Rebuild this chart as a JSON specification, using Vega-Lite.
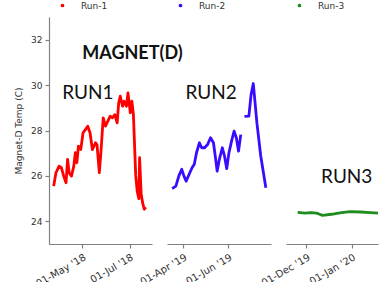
{
  "$schema": "https://vega.github.io/schema/vega-lite/v6.json",
  "padding": {"left": 14, "top": 1, "right": 5, "bottom": 5},
  "spacing": 15,
  "bounds": "flush",
  "config": {
    "view": {"stroke": null},
    "font": "DejaVu Sans",
    "axis": {"domainColor": "#808080", "tickColor": "#808080", "labelColor": "#333333", "labelFontSize": 9, "titleFontSize": 9, "titleFontWeight": "normal", "titleColor": "#333333", "grid": false, "domainWidth": 1.2, "tickWidth": 1.2, "tickSize": 4}
  },
  "resolve": {"scale": {"x": "independent", "y": "independent", "color": "independent"}, "legend": {"color": "independent"}},
  "datasets": {
    "frame": [{"edge": "top"}],
    "run1": [
      {"run": "Run-1", "date": "2018-03-25", "temp": 25.55},
      {"run": "Run-1", "date": "2018-03-28", "temp": 26.14},
      {"run": "Run-1", "date": "2018-04-01", "temp": 26.43},
      {"run": "Run-1", "date": "2018-04-04", "temp": 26.36},
      {"run": "Run-1", "date": "2018-04-07", "temp": 25.99},
      {"run": "Run-1", "date": "2018-04-10", "temp": 25.70},
      {"run": "Run-1", "date": "2018-04-12", "temp": 26.73},
      {"run": "Run-1", "date": "2018-04-14", "temp": 26.14},
      {"run": "Run-1", "date": "2018-04-17", "temp": 25.99},
      {"run": "Run-1", "date": "2018-04-20", "temp": 26.43},
      {"run": "Run-1", "date": "2018-04-22", "temp": 27.02},
      {"run": "Run-1", "date": "2018-04-24", "temp": 26.58},
      {"run": "Run-1", "date": "2018-04-26", "temp": 27.31},
      {"run": "Run-1", "date": "2018-04-29", "temp": 27.16},
      {"run": "Run-1", "date": "2018-05-02", "temp": 27.90},
      {"run": "Run-1", "date": "2018-05-05", "temp": 28.04},
      {"run": "Run-1", "date": "2018-05-08", "temp": 28.19},
      {"run": "Run-1", "date": "2018-05-11", "temp": 27.90},
      {"run": "Run-1", "date": "2018-05-14", "temp": 27.16},
      {"run": "Run-1", "date": "2018-05-18", "temp": 27.46},
      {"run": "Run-1", "date": "2018-05-20", "temp": 27.38},
      {"run": "Run-1", "date": "2018-05-23", "temp": 26.14},
      {"run": "Run-1", "date": "2018-05-25", "temp": 27.02},
      {"run": "Run-1", "date": "2018-05-28", "temp": 28.56},
      {"run": "Run-1", "date": "2018-05-31", "temp": 28.19},
      {"run": "Run-1", "date": "2018-06-03", "temp": 28.41},
      {"run": "Run-1", "date": "2018-06-06", "temp": 28.63},
      {"run": "Run-1", "date": "2018-06-09", "temp": 28.56},
      {"run": "Run-1", "date": "2018-06-12", "temp": 28.70},
      {"run": "Run-1", "date": "2018-06-15", "temp": 28.34},
      {"run": "Run-1", "date": "2018-06-17", "temp": 29.22},
      {"run": "Run-1", "date": "2018-06-19", "temp": 29.51},
      {"run": "Run-1", "date": "2018-06-22", "temp": 29.07},
      {"run": "Run-1", "date": "2018-06-24", "temp": 29.29},
      {"run": "Run-1", "date": "2018-06-27", "temp": 29.07},
      {"run": "Run-1", "date": "2018-06-29", "temp": 29.66},
      {"run": "Run-1", "date": "2018-07-02", "temp": 28.78},
      {"run": "Run-1", "date": "2018-07-04", "temp": 29.29},
      {"run": "Run-1", "date": "2018-07-06", "temp": 28.70},
      {"run": "Run-1", "date": "2018-07-09", "temp": 26.00},
      {"run": "Run-1", "date": "2018-07-11", "temp": 25.30},
      {"run": "Run-1", "date": "2018-07-13", "temp": 25.00},
      {"run": "Run-1", "date": "2018-07-14", "temp": 26.80},
      {"run": "Run-1", "date": "2018-07-16", "temp": 25.20},
      {"run": "Run-1", "date": "2018-07-18", "temp": 24.80},
      {"run": "Run-1", "date": "2018-07-20", "temp": 24.53},
      {"run": "Run-1", "date": "2018-07-22", "temp": 24.62}
    ],
    "run2": [
      {"run": "Run-2", "seg": "a", "date": "2019-03-17", "temp": 25.44},
      {"run": "Run-2", "seg": "a", "date": "2019-03-22", "temp": 25.55},
      {"run": "Run-2", "seg": "a", "date": "2019-03-26", "temp": 25.99},
      {"run": "Run-2", "seg": "a", "date": "2019-03-30", "temp": 26.29},
      {"run": "Run-2", "seg": "a", "date": "2019-04-02", "temp": 25.99},
      {"run": "Run-2", "seg": "a", "date": "2019-04-05", "temp": 25.77},
      {"run": "Run-2", "seg": "a", "date": "2019-04-09", "temp": 26.07},
      {"run": "Run-2", "seg": "a", "date": "2019-04-13", "temp": 26.36},
      {"run": "Run-2", "seg": "a", "date": "2019-04-16", "temp": 26.51},
      {"run": "Run-2", "seg": "a", "date": "2019-04-19", "temp": 27.02},
      {"run": "Run-2", "seg": "a", "date": "2019-04-23", "temp": 27.46},
      {"run": "Run-2", "seg": "a", "date": "2019-04-26", "temp": 27.24},
      {"run": "Run-2", "seg": "a", "date": "2019-04-30", "temp": 27.24},
      {"run": "Run-2", "seg": "a", "date": "2019-05-04", "temp": 27.38},
      {"run": "Run-2", "seg": "a", "date": "2019-05-08", "temp": 27.68},
      {"run": "Run-2", "seg": "a", "date": "2019-05-12", "temp": 27.46},
      {"run": "Run-2", "seg": "a", "date": "2019-05-15", "temp": 26.73},
      {"run": "Run-2", "seg": "a", "date": "2019-05-17", "temp": 26.21},
      {"run": "Run-2", "seg": "a", "date": "2019-05-20", "temp": 26.73},
      {"run": "Run-2", "seg": "a", "date": "2019-05-24", "temp": 27.24},
      {"run": "Run-2", "seg": "a", "date": "2019-05-27", "temp": 26.87},
      {"run": "Run-2", "seg": "a", "date": "2019-05-30", "temp": 26.32},
      {"run": "Run-2", "seg": "a", "date": "2019-06-02", "temp": 27.02},
      {"run": "Run-2", "seg": "a", "date": "2019-06-06", "temp": 27.60},
      {"run": "Run-2", "seg": "a", "date": "2019-06-09", "temp": 27.97},
      {"run": "Run-2", "seg": "a", "date": "2019-06-12", "temp": 27.68},
      {"run": "Run-2", "seg": "a", "date": "2019-06-15", "temp": 27.09},
      {"run": "Run-2", "seg": "a", "date": "2019-06-18", "temp": 27.82},
      {"run": "Run-2", "seg": "b", "date": "2019-06-23", "temp": 28.62},
      {"run": "Run-2", "seg": "b", "date": "2019-06-29", "temp": 28.63},
      {"run": "Run-2", "seg": "b", "date": "2019-07-02", "temp": 29.58},
      {"run": "Run-2", "seg": "b", "date": "2019-07-05", "temp": 30.07},
      {"run": "Run-2", "seg": "b", "date": "2019-07-10", "temp": 28.30},
      {"run": "Run-2", "seg": "b", "date": "2019-07-15", "temp": 26.90},
      {"run": "Run-2", "seg": "b", "date": "2019-07-22", "temp": 25.48}
    ],
    "run3": [
      {"run": "Run-3", "date": "2019-11-25", "temp": 24.39},
      {"run": "Run-3", "date": "2019-11-30", "temp": 24.36},
      {"run": "Run-3", "date": "2019-12-04", "temp": 24.38},
      {"run": "Run-3", "date": "2019-12-08", "temp": 24.36},
      {"run": "Run-3", "date": "2019-12-10", "temp": 24.31},
      {"run": "Run-3", "date": "2019-12-12", "temp": 24.26},
      {"run": "Run-3", "date": "2019-12-18", "temp": 24.31},
      {"run": "Run-3", "date": "2019-12-25", "temp": 24.38},
      {"run": "Run-3", "date": "2019-12-31", "temp": 24.43},
      {"run": "Run-3", "date": "2020-01-07", "temp": 24.41},
      {"run": "Run-3", "date": "2020-01-14", "temp": 24.38},
      {"run": "Run-3", "date": "2020-01-19", "temp": 24.36}
    ],
    "notes": [
      {"panel": 1, "kind": "title", "date": "2018-05-01", "temp": 31.37, "label": "MAGNET(D)"},
      {"panel": 1, "kind": "run", "date": "2018-04-05", "temp": 29.67, "label": "RUN1"},
      {"panel": 2, "kind": "run", "date": "2019-04-04", "temp": 29.66, "label": "RUN2"},
      {"panel": 3, "kind": "run", "date": "2019-12-11", "temp": 25.95, "label": "RUN3"}
    ]
  },
  "hconcat": [
    {
      "width": 103,
      "height": 227,
      "encoding": {
        "x": {"field": "date", "type": "temporal",
          "scale": {"type": "utc", "domain": [{"year": 2018, "month": 3, "date": 19, "utc": true}, {"year": 2018, "month": 7, "date": 30, "utc": true}]},
          "axis": {"values": [{"year": 2018, "month": 5, "date": 1, "utc": true}, {"year": 2018, "month": 7, "date": 1, "utc": true}], "format": "%d-%b '%y", "labelAngle": -30, "labelAlign": "right", "labelBaseline": "top", "labelPadding": 4, "labelFontSize": 10, "title": null}},
        "y": {"field": "temp", "type": "quantitative",
          "scale": {"domain": [23, 33], "nice": false, "zero": false},
          "axis": {"values": [24, 26, 28, 30, 32], "title": "Magnet-D Temp (C)", "labelPadding": 3, "titlePadding": 7}}
      },
      "layer": [
        {
          "data": {"name": "frame"},
          "mark": {"type": "rule", "color": "#808080", "strokeWidth": 1.2},
          "encoding": {"x": null, "y": {"datum": 33, "type": "quantitative"}}
        },
        {
          "data": {"name": "run1"},
          "mark": {"type": "line", "strokeWidth": 2.8, "strokeJoin": "round"},
          "encoding": {
            "color": {"field": "run", "type": "nominal",
              "scale": {"domain": ["Run-1"], "range": ["#ff0000"]},
              "legend": {"orient": "none", "legendX": 9, "legendY": -16, "title": null, "symbolType": "circle", "symbolSize": 5, "symbolFillColor": "#ff0000", "symbolStrokeColor": "#ff0000", "labelFontSize": 9, "labelColor": "#333333", "labelOffset": 14, "padding": 0}}
          }
        },
        {
          "data": {"name": "notes"},
          "transform": [{"filter": "datum.panel == 1 && datum.kind == 'title'"}],
          "mark": {"type": "text", "font": "Lato", "fontWeight": "bold", "fontSize": 18, "align": "left", "baseline": "middle", "color": "#111111"},
          "encoding": {"text": {"field": "label"}}
        },
        {
          "data": {"name": "notes"},
          "transform": [{"filter": "datum.panel == 1 && datum.kind == 'run'"}],
          "mark": {"type": "text", "font": "Lato", "fontSize": 19, "align": "left", "baseline": "middle", "color": "#111111"},
          "encoding": {"text": {"field": "label"}}
        }
      ]
    },
    {
      "width": 104,
      "height": 227,
      "encoding": {
        "x": {"field": "date", "type": "temporal",
          "scale": {"type": "utc", "domain": [{"year": 2019, "month": 3, "date": 10, "utc": true}, {"year": 2019, "month": 7, "date": 29, "utc": true}]},
          "axis": {"values": [{"year": 2019, "month": 4, "date": 1, "utc": true}, {"year": 2019, "month": 6, "date": 1, "utc": true}], "format": "%d-%b '%y", "labelAngle": -30, "labelAlign": "right", "labelBaseline": "top", "labelPadding": 4, "labelFontSize": 10, "title": null}},
        "y": {"field": "temp", "type": "quantitative", "scale": {"domain": [23, 33], "nice": false, "zero": false}, "axis": null}
      },
      "layer": [
        {
          "data": {"name": "frame"},
          "mark": {"type": "rule", "color": "#808080", "strokeWidth": 1.2},
          "encoding": {"x": null, "y": {"datum": 33, "type": "quantitative"}}
        },
        {
          "data": {"name": "run2"},
          "mark": {"type": "line", "strokeWidth": 2.8, "strokeJoin": "round"},
          "encoding": {
            "detail": {"field": "seg"},
            "color": {"field": "run", "type": "nominal",
              "scale": {"domain": ["Run-2"], "range": ["#3a0cff"]},
              "legend": {"orient": "none", "legendX": 9, "legendY": -16, "title": null, "symbolType": "circle", "symbolSize": 5, "symbolFillColor": "#3a0cff", "symbolStrokeColor": "#3a0cff", "labelFontSize": 9, "labelColor": "#333333", "labelOffset": 14, "padding": 0}}
          }
        },
        {
          "data": {"name": "notes"},
          "transform": [{"filter": "datum.panel == 2"}],
          "mark": {"type": "text", "font": "Lato", "fontSize": 19, "align": "left", "baseline": "middle", "color": "#111111"},
          "encoding": {"text": {"field": "label"}}
        }
      ]
    },
    {
      "width": 92,
      "height": 227,
      "encoding": {
        "x": {"field": "date", "type": "temporal",
          "scale": {"type": "utc", "domain": [{"year": 2019, "month": 11, "date": 17, "utc": true}, {"year": 2020, "month": 1, "date": 19, "utc": true}]},
          "axis": {"values": [{"year": 2019, "month": 12, "date": 1, "utc": true}, {"year": 2020, "month": 1, "date": 1, "utc": true}], "format": "%d-%b '%y", "labelAngle": -30, "labelAlign": "right", "labelBaseline": "top", "labelPadding": 4, "labelFontSize": 10, "title": null}},
        "y": {"field": "temp", "type": "quantitative", "scale": {"domain": [23, 33], "nice": false, "zero": false}, "axis": null}
      },
      "layer": [
        {
          "data": {"name": "frame"},
          "mark": {"type": "rule", "color": "#808080", "strokeWidth": 1.2},
          "encoding": {"x": null, "y": {"datum": 33, "type": "quantitative"}}
        },
        {
          "data": {"name": "run3"},
          "mark": {"type": "line", "strokeWidth": 2.8, "strokeJoin": "round"},
          "encoding": {
            "color": {"field": "run", "type": "nominal",
              "scale": {"domain": ["Run-3"], "range": ["#1e8c1e"]},
              "legend": {"orient": "none", "legendX": 9, "legendY": -16, "title": null, "symbolType": "circle", "symbolSize": 5, "symbolFillColor": "#1e8c1e", "symbolStrokeColor": "#1e8c1e", "labelFontSize": 9, "labelColor": "#333333", "labelOffset": 14, "padding": 0}}
          }
        },
        {
          "data": {"name": "notes"},
          "transform": [{"filter": "datum.panel == 3"}],
          "mark": {"type": "text", "font": "Lato", "fontSize": 19, "align": "left", "baseline": "middle", "color": "#111111"},
          "encoding": {"text": {"field": "label"}}
        }
      ]
    }
  ]
}
